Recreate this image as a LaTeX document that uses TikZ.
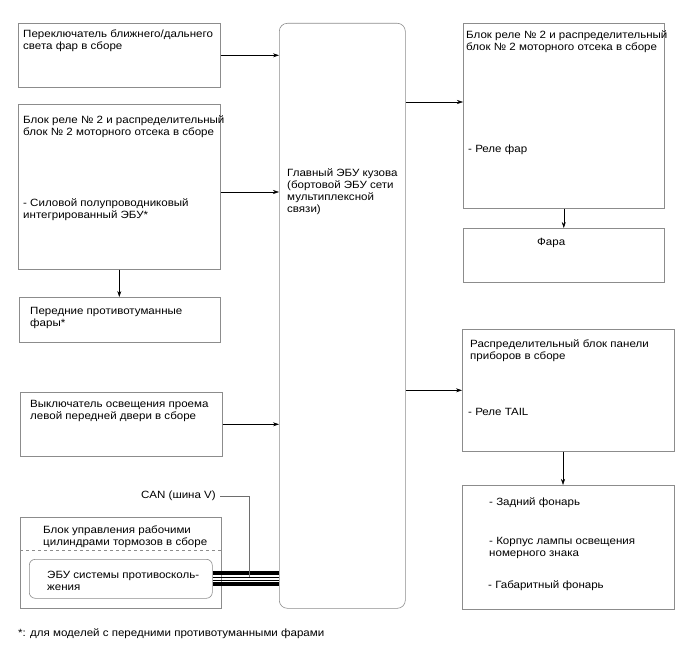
\documentclass[tikz,border=0pt]{standalone}
\usepackage{fontspec}
\setmainfont{Liberation Sans}[FakeStretch=1.1]
\usetikzlibrary{arrows.meta}
\definecolor{boxgray}{HTML}{8C8C8C}
\definecolor{cangray}{HTML}{6E6E6E}
\tikzset{
  box/.style={draw=boxgray, line width=0.6pt, anchor=north west, inner sep=0pt},
  txt/.style={anchor=north west, inner sep=0pt, align=left, font=\fontsize{10.5}{12}\selectfont},
  arr/.style={->, line width=0.5pt},
  busthick/.style={line width=3.5pt, black},
  busthin/.style={line width=0.6pt, black},
}
\begin{document}
\begin{tikzpicture}[x=1pt, y=-1pt, >={Stealth[length=6pt,width=4pt]}]
    \useasboundingbox (0,0) rectangle (688,658);

    % Left column
    \node[box, minimum width=202, minimum height=64] (swA) at (18,23) {};
    \node[box, minimum width=202, minimum height=165] (rlyL) at (18,104) {};
    \node[box, minimum width=201, minimum height=45] (fogL) at (19,297) {};
    \node[box, minimum width=202, minimum height=64] (doorSw) at (20,392) {};
    \node[box, minimum width=201, minimum height=91] (brkAct) at (20,517) {};
    \node[box, rounded corners=6, minimum width=183, minimum height=39] (aecu) at (29,559) {};
    \draw[boxgray, dashed, line width=0.6pt] (brkAct.west |- 0,550) -- (brkAct.east |- 0,550);

    % Main ECU
    \node[box, rounded corners=8, minimum width=126, minimum height=585] (ecu) at (279,23) {};

    % Right column
    \node[box, minimum width=201, minimum height=185] (rlyR) at (463,23) {};
    \node[box, minimum width=201, minimum height=54] (lamp) at (463,228) {};
    \node[box, minimum width=212, minimum height=122] (ipJB) at (462,329) {};
    \node[box, minimum width=212, minimum height=124] (tailL) at (462,485) {};

    % Texts
    \node[txt] (tSwA) at (23,30) {Переключатель ближнего/дальнего\\света фар в сборе};
    \node[txt] (tRlyL) at (23,116) {Блок реле № 2 и распределительный\\блок № 2 моторного отсека в сборе};
    \node[txt] (tIpd) at (23,199) {- Силовой полупроводниковый\\интегрированный ЭБУ*};
    \node[txt] (tFog) at (30,307) {Передние противотуманные\\фары*};
    \node[txt] (tDoor) at (30,400) {Выключатель освещения проема\\левой передней двери в сборе};
    \node[txt] (tBrk) at (43,526) {Блок управления рабочими\\цилиндрами тормозов в сборе};
    \node[txt] (tAecu) at (47,571) {ЭБУ системы противосколь-\\жения};
    \node[txt] (tEcu) at (287,169) {Главный ЭБУ кузова\\(бортовой ЭБУ сети\\мультиплексной\\связи)};
    \node[txt] (tRlyR) at (466,31) {Блок реле № 2 и распределительный\\блок № 2 моторного отсека в сборе};
    \node[txt] (tHRly) at (468,145) {- Реле фар};
    \node[txt] (tLamp) at (537,238) {Фара};
    \node[txt] (tIpJB) at (470,340) {Распределительный блок панели\\приборов в сборе};
    \node[txt] (tTRly) at (468,408) {- Реле TAIL};
    \node[txt] (tTail) at (489,498) {- Задний фонарь};
    \node[txt] (tLic) at (489,537) {- Корпус лампы освещения\\номерного знака};
    \node[txt] (tClr) at (488,581) {- Габаритный фонарь};
    \node[txt, anchor=east] (tCan) at (216,496) {CAN (шина V)};
    \node[txt] (tNote) at (18,629) {*: для моделей с передними противотуманными фарами};

    % Arrows
    \coordinate (hRlyL) at (0,192);
    \coordinate (hRlyR) at (0,102);
    \coordinate (vTail) at (563,0);
    \draw[arr] (swA.east) -- (swA.east -| ecu.west);
    \draw[arr] (rlyL.east |- hRlyL) -- (ecu.west |- hRlyL);
    \draw[arr] (rlyL.south) -- (rlyL.south |- fogL.north);
    \draw[arr] (doorSw.east) -- (doorSw.east -| ecu.west);
    \draw[arr] (ecu.east |- hRlyR) -- (rlyR.west |- hRlyR);
    \draw[arr] (rlyR.south) -- (rlyR.south |- lamp.north);
    \draw[arr] (ecu.east |- ipJB.west) -- (ipJB.west);
    \draw[arr] (ipJB.south -| vTail) -- (tailL.north -| vTail);

    % Bus lines
    \coordinate (hBusA) at (0,573);
    \coordinate (hBusB) at (0,577);
    \coordinate (hBusC) at (0,580);
    \coordinate (hBusD) at (0,584);
    \coordinate (canEnd) at (249,577);
    \draw[busthick] (aecu.east |- hBusA) -- (ecu.west |- hBusA);
    \draw[busthin] (aecu.east |- hBusB) -- (ecu.west |- hBusB);
    \draw[busthin] (aecu.east |- hBusC) -- (ecu.west |- hBusC);
    \draw[busthick] (aecu.east |- hBusD) -- (ecu.west |- hBusD);
    \draw[cangray, line width=0.8pt] ([xshift=4pt]tCan.east) -| (canEnd);
\end{tikzpicture}
\end{document}
